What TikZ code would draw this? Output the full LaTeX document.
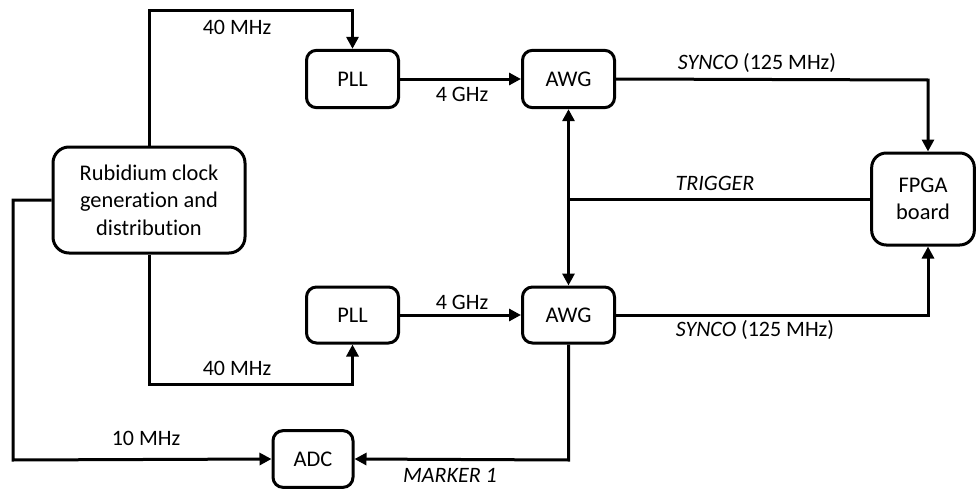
\documentclass[tikz,border=0pt]{standalone}
\usepackage{fontspec}
\setmainfont{Carlito}[Ligatures=CommonOff]
\usetikzlibrary{arrows.meta}
\begin{document}
\begin{tikzpicture}[x=0.75pt,y=-0.75pt,
  box/.style={draw, line width=2.25pt, rounded corners=7.5pt, inner sep=0pt, align=center,
              font=\fontsize{16.8}{20.6}\selectfont},
  conn/.style={line width=2.25pt, -{Triangle[length=9pt,width=9pt]}},
  wire/.style={line width=2.25pt},
  both/.style={line width=2.25pt, {Triangle[length=9pt,width=9pt]}-{Triangle[length=9pt,width=9pt]}},
  lbl/.style={font=\fontsize{16.5}{20}\selectfont, inner sep=0pt}]
\useasboundingbox (0,0) rectangle (976,489);

% boxes
\node[box, rounded corners=12pt, minimum width=144pt, minimum height=79.5pt] (rb) at (149,200)
  {Rubidium clock\\generation and\\distribution};
\node[box, minimum width=69pt, minimum height=43pt] (pll1) at (352.5,79) {PLL};
\node[box, minimum width=69pt, minimum height=43pt] (awg1) at (568.5,79) {AWG};
\node[box, minimum width=69pt, minimum height=42pt] (pll2) at (352.5,315) {PLL};
\node[box, minimum width=69pt, minimum height=42pt] (awg2) at (568.5,315) {AWG};
\node[box, rounded corners=11pt, minimum width=77pt, minimum height=69pt] (fpga) at (923,199) {FPGA\\board};
\node[box, minimum width=60pt, minimum height=42.5pt] (adc) at (313,459) {ADC};

% helper coordinates
\coordinate (t1) at (149,10);
\coordinate (b1) at (149,384);
\coordinate (s1) at (928,80);
\coordinate (s2) at (928,315);
\coordinate (m1) at (568.5,460);
\coordinate (l1) at (13,200);
\coordinate (l2) at (13,460);

% connectors
\draw[conn] (rb.north) -- (t1) -| (pll1.north);
\draw[conn] (pll1.east) -- (awg1.west);
\draw[conn] (awg1.east) -- (s1) -- (s1 |- fpga.north);
\draw[wire] (fpga.west) -- (fpga.west -| awg1.south);
\draw[both] (awg1.south) -- (awg2.north);
\draw[conn] (rb.south) -- (b1) -| (pll2.south);
\draw[conn] (pll2.east) -- (awg2.west);
\draw[conn] (awg2.east) -- (s2) -- (s2 |- fpga.south);
\draw[conn] (awg2.south) -- (m1) -- (adc.east);
\draw[conn] (rb.west) -- (l1) -- (l2) -- (adc.west);

% labels
\node[lbl] (lab40a) at (237,27) {40 MHz};
\node[lbl] (lab4a) at (462,94) {4 GHz};
\node[lbl] (labsa) at (757,63) {\textit{SYNCO} (125 MHz)};
\node[lbl] (labtr) at (715,183) {\textit{TRIGGER}};
\node[lbl] (lab4b) at (462,302) {4 GHz};
\node[lbl] (labsb) at (755,330) {\textit{SYNCO} (125 MHz)};
\node[lbl] (lab40b) at (237,368) {40 MHz};
\node[lbl] (lab10) at (146,438) {10 MHz};
\node[lbl] (labmk) at (450,475) {\textit{MARKER 1}};
\end{tikzpicture}
\end{document}
